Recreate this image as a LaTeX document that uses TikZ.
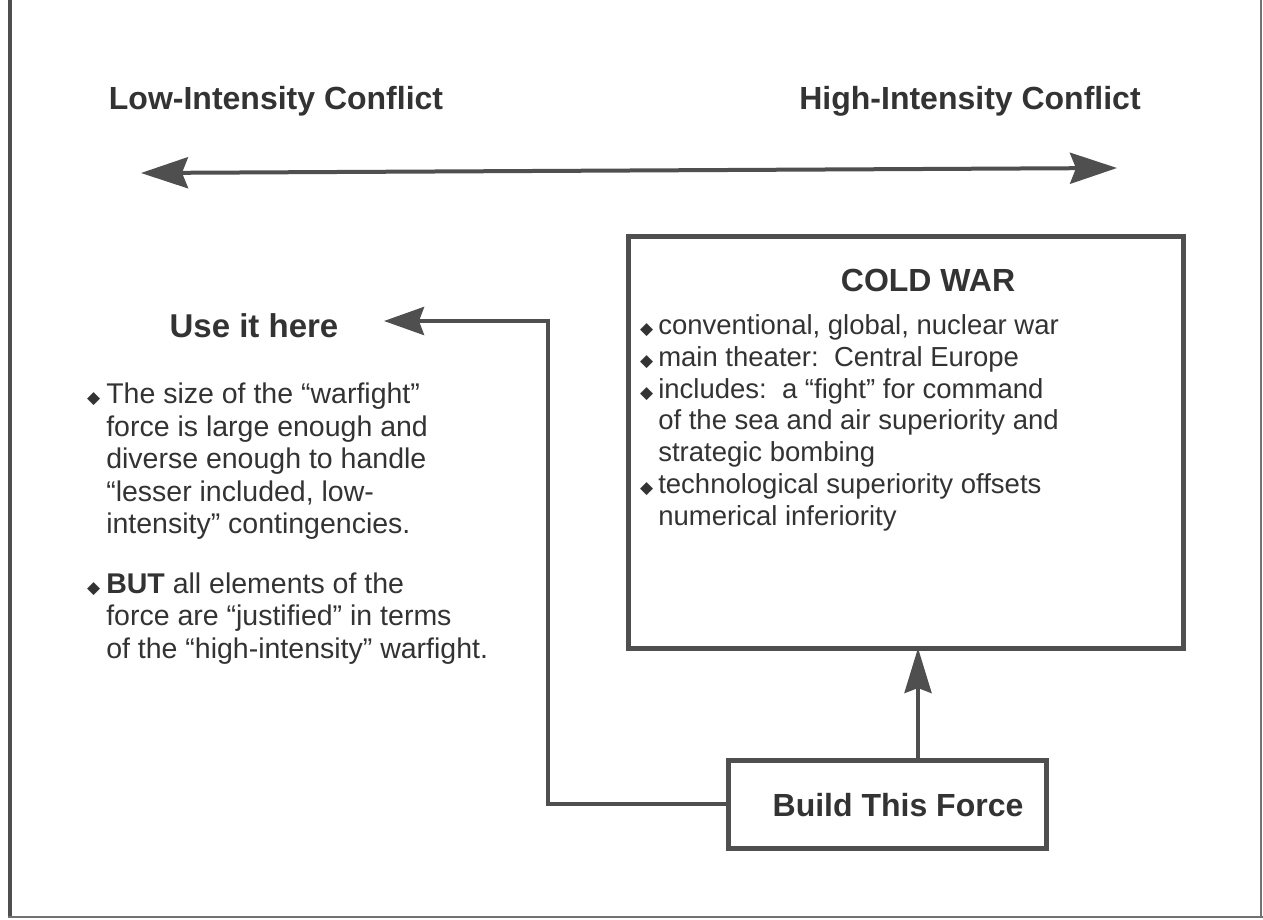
\documentclass[tikz,border=0pt]{standalone}
\usepackage{fontspec}
\setmainfont{Liberation Sans}
\newfontfamily\djv{DejaVu Sans}
\usetikzlibrary{arrows.meta}
\definecolor{ink}{HTML}{333333}
\definecolor{linec}{HTML}{4F4F4F}
\newcommand\bul{{\djv\fontsize{17}{17}\selectfont ◆}}
\begin{document}
\begin{tikzpicture}[x=1pt,y=-1pt,
  title/.style={font=\bfseries\fontsize{32}{34}\selectfont, text=ink, inner sep=0},
  body/.style={font=\fontsize{27.5}{31.8}\selectfont, text=ink, inner sep=0, anchor=north west, align=left},
  conn/.style={draw=linec, line width=4pt},
  boxst/.style={draw=linec, line width=5pt, fill=white}]
\useasboundingbox (0,0) rectangle (1263,919);
\fill[white] (0,0) rectangle (1263,919);
% frame
\draw[linec, line width=4pt] (10,0) -- (10,917);
\draw[linec!80, line width=2pt] (8,917) -- (1263,917);
\draw[linec!80, line width=1.5pt] (1261,0) -- (1261,917);

% scale titles
\node[title] (low) at (276,101) {Low-Intensity Conflict};
\node[title] (high) at (970,101) {High-Intensity Conflict};
\coordinate (lend) at (141,173);
\coordinate (rend) at (1117,168);
\draw[conn, {Stealth[length=47pt,width=31pt,inset=6pt]}-{Stealth[length=47pt,width=31pt,inset=6pt]}] (lend) -- (rend);

% cold war box
\node[boxst, minimum width=555pt, minimum height=412pt, inner sep=0] (cw) at (905.5,442) {};
\node[title] (cwt) at (928,280) {COLD WAR};
\node[body] (cwb) at (640,312) {\begin{tabular}{@{}l@{\hspace{5pt}}l@{}}
\bul & conventional, global, nuclear war\\
\bul & main theater:\ \ Central Europe\\
\bul & includes:\ \ a ``fight'' for command\\
 & of the sea and air superiority and\\
 & strategic bombing\\
\bul & technological superiority offsets\\
 & numerical inferiority
\end{tabular}};

% build box
\node[boxst, minimum width=318pt, minimum height=88pt, inner sep=0] (bf) at (887,804) {};
\node[title] (bft) at (898,805) {Build This Force};

% use it here
\node[title, font=\bfseries\fontsize{33}{35}\selectfont] (use) at (254,326) {Use it here};
\coordinate (tipuse) at (384,321);
\coordinate (corner) at (548,321);
\draw[conn, {Stealth[length=40pt,width=28pt,inset=5pt]}-] (tipuse) -- (corner) |- (bf.west);
\draw[conn, -{Stealth[length=45pt,width=27pt,inset=5pt]}] (bf.north -| 918,0) -- (918,648);

\node[body, font=\fontsize{28.5}{32.5}\selectfont] (lb) at (87,381) {\begin{tabular}{@{}l@{\hspace{6pt}}l@{}}
\bul & The size of the ``warfight''\\
 & force is large enough and\\
 & diverse enough to handle\\
 & ``lesser included, low-\\
 & intensity'' contingencies.\\[27pt]
\bul & \textbf{BUT} all elements of the\\
 & force are ``justified'' in terms\\
 & of the ``high-intensity'' warfight.
\end{tabular}};
\end{tikzpicture}
\end{document}
